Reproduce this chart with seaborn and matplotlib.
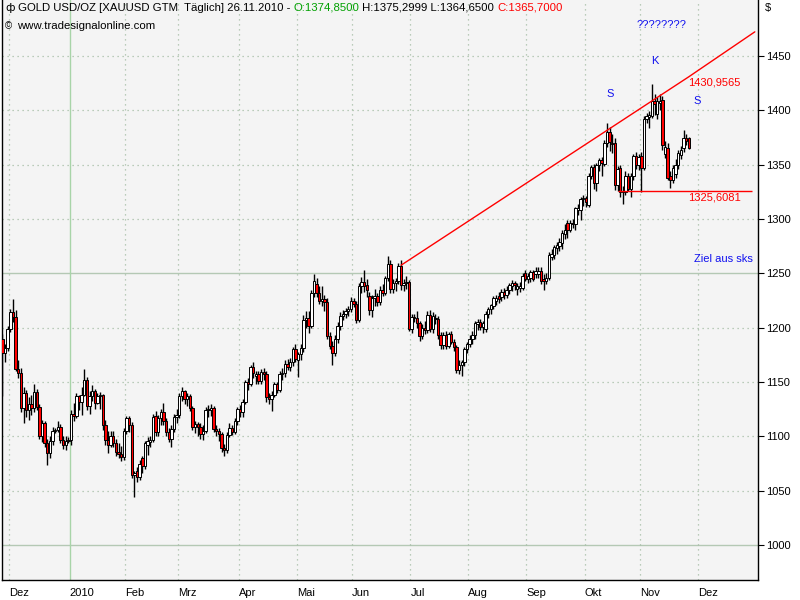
import numpy as np
import pandas as pd
import matplotlib
matplotlib.use("Agg")
import matplotlib.pyplot as plt
import seaborn as sns

# ---------------- data (daily XAUUSD, 27.11.2009 - 26.11.2010) ----------------
first_day = "2009-11-27"
last_day = "2010-11-26"

opens = [
    1190, 1177,
    1181, 1199, 1214, 1210, 1162, 1158, 1126, 1140, 1124, 1130, 1126, 1141, 1127, 1100, 1112, 1094, 1085, 1096, 1105, 1106, 1109, 1097, 1092,
    1096, 1097, 1121, 1119, 1137, 1132, 1138, 1152, 1128, 1137, 1142, 1131, 1137, 1138, 1110, 1097, 1092, 1100, 1094, 1086, 1084,
    1081, 1105, 1117, 1110, 1064, 1068, 1063, 1080, 1073, 1092, 1095, 1097, 1119, 1104, 1117, 1122, 1114, 1104, 1098, 1107,
    1118, 1120, 1137, 1142, 1134, 1137, 1126, 1109, 1111, 1109, 1102, 1105, 1124, 1124, 1126, 1107, 1105, 1102, 1089, 1087, 1101, 1108, 1104,
    1114, 1125, 1122, 1132, 1150, 1148, 1164, 1156, 1157, 1151, 1159, 1157, 1136, 1134, 1138, 1148, 1143, 1157, 1158, 1167, 1164, 1168,
    1180, 1170, 1176, 1181, 1207, 1209, 1202, 1232, 1240, 1232, 1225, 1226, 1224, 1192, 1183, 1177, 1190, 1202, 1211, 1213, 1215,
    1217, 1225, 1222, 1207, 1238, 1242, 1239, 1229, 1216, 1227, 1229, 1224, 1235, 1232, 1246, 1259, 1236, 1241, 1243, 1257, 1239, 1241,
    1242, 1199, 1210, 1209, 1204, 1192, 1200, 1198, 1212, 1199, 1209, 1208, 1193, 1184, 1193, 1183, 1194, 1187, 1182, 1161, 1166, 1168,
    1180, 1185, 1190, 1193, 1203, 1205, 1201, 1199, 1213, 1217, 1220, 1225, 1229, 1228, 1233, 1230, 1235, 1238, 1241, 1236, 1237, 1237,
    1250, 1245, 1246, 1251, 1249, 1249, 1252, 1245, 1243, 1246, 1265, 1267, 1273, 1275, 1278, 1286, 1296, 1290, 1296, 1295, 1308, 1308,
    1318, 1319, 1313, 1340, 1348, 1333, 1350, 1354, 1351, 1370, 1380, 1370, 1370, 1331, 1347, 1326, 1325, 1340, 1328, 1340, 1358,
    1350, 1358, 1347, 1392, 1394, 1395, 1409, 1397, 1407, 1410, 1360, 1365, 1340, 1336, 1341, 1350, 1359, 1365, 1375, 1374.85,
]
highs = [
    1194, 1185,
    1202, 1217, 1226, 1216, 1170, 1163, 1145, 1143, 1136, 1138, 1148, 1144, 1130, 1115, 1114, 1098, 1100, 1109, 1108, 1114, 1111, 1100, 1100,
    1099, 1124, 1131, 1140, 1138, 1145, 1162, 1155, 1142, 1147, 1144, 1140, 1141, 1139, 1115, 1105, 1105, 1105, 1098, 1094, 1091,
    1108, 1119, 1119, 1113, 1068, 1072, 1078, 1082, 1096, 1099, 1100, 1121, 1123, 1120, 1125, 1131, 1117, 1108, 1110, 1121,
    1125, 1140, 1145, 1143, 1140, 1139, 1128, 1114, 1113, 1112, 1110, 1127, 1129, 1130, 1128, 1110, 1108, 1104, 1093, 1104, 1112, 1110, 1117,
    1127, 1129, 1134, 1152, 1154, 1166, 1168, 1160, 1160, 1162, 1163, 1160, 1140, 1142, 1150, 1150, 1160, 1163, 1170, 1171, 1172, 1182,
    1185, 1178, 1185, 1212, 1215, 1215, 1235, 1249, 1246, 1238, 1238, 1230, 1227, 1196, 1188, 1193, 1205, 1214, 1216, 1218, 1220,
    1228, 1227, 1225, 1241, 1247, 1253, 1245, 1233, 1230, 1236, 1232, 1238, 1240, 1248, 1266, 1262, 1245, 1246, 1260, 1262, 1245, 1248,
    1244, 1213, 1213, 1215, 1206, 1203, 1206, 1215, 1216, 1214, 1213, 1211, 1196, 1196, 1197, 1196, 1197, 1190, 1184, 1170, 1170, 1182,
    1187, 1193, 1197, 1206, 1208, 1208, 1206, 1215, 1219, 1222, 1229, 1230, 1233, 1236, 1237, 1238, 1241, 1244, 1243, 1241, 1242, 1250,
    1253, 1250, 1253, 1253, 1256, 1256, 1256, 1249, 1250, 1270, 1272, 1276, 1279, 1283, 1290, 1295, 1299, 1299, 1300, 1311, 1314, 1320,
    1322, 1321, 1342, 1350, 1351, 1352, 1356, 1357, 1373, 1388, 1385, 1378, 1375, 1349, 1350, 1330, 1344, 1342, 1342, 1360, 1362,
    1360, 1362, 1395, 1398, 1399, 1424, 1415, 1412, 1415, 1413, 1372, 1370, 1344, 1350, 1355, 1364, 1367, 1382, 1378, 1375.30,
]
lows = [
    1137, 1168,
    1179, 1196, 1205, 1160, 1154, 1122, 1112, 1118, 1115, 1120, 1122, 1124, 1098, 1095, 1090, 1074, 1080, 1092, 1103, 1104, 1094, 1088, 1087,
    1094, 1092, 1114, 1117, 1124, 1120, 1137, 1124, 1121, 1133, 1125, 1130, 1125, 1106, 1092, 1085, 1090, 1090, 1082, 1080, 1077,
    1078, 1102, 1104, 1062, 1044, 1058, 1060, 1066, 1070, 1083, 1090, 1095, 1100, 1100, 1110, 1110, 1100, 1095, 1090, 1104,
    1112, 1117, 1133, 1130, 1128, 1123, 1106, 1103, 1100, 1098, 1097, 1103, 1118, 1119, 1104, 1100, 1096, 1086, 1082, 1085, 1099, 1101, 1102,
    1110, 1118, 1118, 1130, 1143, 1146, 1154, 1148, 1148, 1148, 1152, 1132, 1130, 1123, 1136, 1140, 1141, 1152, 1155, 1161, 1160, 1165,
    1168, 1155, 1170, 1178, 1200, 1195, 1200, 1228, 1228, 1222, 1220, 1215, 1190, 1180, 1166, 1174, 1186, 1198, 1207, 1209, 1211,
    1214, 1219, 1204, 1205, 1232, 1233, 1228, 1212, 1210, 1220, 1220, 1221, 1229, 1230, 1243, 1232, 1232, 1234, 1240, 1235, 1234, 1236,
    1197, 1195, 1205, 1200, 1188, 1190, 1194, 1195, 1196, 1195, 1203, 1190, 1180, 1180, 1180, 1181, 1185, 1179, 1158, 1157, 1156, 1165,
    1177, 1182, 1185, 1190, 1198, 1198, 1195, 1196, 1209, 1213, 1217, 1221, 1223, 1225, 1226, 1227, 1231, 1234, 1235, 1230, 1233, 1235,
    1243, 1241, 1242, 1243, 1246, 1246, 1240, 1235, 1240, 1244, 1262, 1263, 1268, 1271, 1272, 1282, 1283, 1288, 1292, 1290, 1304, 1299,
    1312, 1311, 1311, 1337, 1328, 1326, 1344, 1340, 1349, 1366, 1363, 1361, 1327, 1326, 1320, 1314, 1322, 1326, 1320, 1336, 1346,
    1345, 1325, 1345, 1388, 1384, 1393, 1396, 1392, 1400, 1364, 1356, 1336, 1329, 1333, 1338, 1346, 1355, 1362, 1368, 1364.65,
]
closes = [
    1177, 1181,
    1199, 1214, 1210, 1162, 1158, 1126, 1140, 1124, 1130, 1126, 1141, 1127, 1100, 1112, 1094, 1085, 1096, 1105, 1106, 1109, 1097, 1092, 1096,
    1097, 1121, 1119, 1137, 1132, 1138, 1152, 1128, 1137, 1142, 1131, 1137, 1138, 1110, 1097, 1092, 1100, 1094, 1086, 1084, 1081,
    1105, 1117, 1110, 1064, 1066, 1063, 1075, 1073, 1094, 1096, 1097, 1118, 1104, 1117, 1122, 1114, 1104, 1098, 1107, 1118,
    1120, 1137, 1142, 1134, 1137, 1126, 1109, 1111, 1109, 1102, 1105, 1124, 1125, 1126, 1107, 1105, 1102, 1089, 1087, 1101, 1108, 1104, 1114,
    1125, 1122, 1132, 1150, 1148, 1164, 1158, 1157, 1151, 1159, 1157, 1136, 1134, 1138, 1148, 1143, 1157, 1158, 1167, 1164, 1168, 1180,
    1171, 1176, 1181, 1207, 1209, 1202, 1232, 1243, 1232, 1225, 1226, 1224, 1192, 1183, 1177, 1190, 1202, 1211, 1213, 1215, 1217,
    1225, 1222, 1207, 1238, 1242, 1238, 1235, 1216, 1227, 1229, 1224, 1235, 1232, 1246, 1259, 1236, 1241, 1243, 1257, 1239, 1241, 1242,
    1199, 1210, 1209, 1204, 1192, 1200, 1198, 1212, 1199, 1211, 1208, 1193, 1184, 1193, 1183, 1194, 1187, 1182, 1161, 1166, 1168, 1180,
    1185, 1190, 1193, 1204, 1205, 1201, 1204, 1213, 1217, 1221, 1227, 1227, 1226, 1233, 1230, 1235, 1239, 1241, 1239, 1238, 1238, 1248,
    1245, 1248, 1251, 1245, 1252, 1252, 1243, 1243, 1246, 1267, 1268, 1274, 1276, 1279, 1287, 1290, 1290, 1296, 1295, 1310, 1310, 1318,
    1319, 1316, 1340, 1348, 1333, 1350, 1354, 1352, 1370, 1380, 1371, 1369, 1331, 1346, 1325, 1325, 1340, 1328, 1340, 1358, 1350,
    1357, 1347, 1392, 1395, 1396, 1409, 1406, 1409, 1409, 1368, 1366, 1338, 1336, 1347, 1350, 1361, 1364, 1375, 1372, 1365.70,
]

month_labels = ["Dez", "2010", "Feb", "Mrz", "Apr", "Mai", "Jun", "Jul", "Aug", "Sep", "Okt", "Nov", "Dez"]
y_ticks = [1000, 1050, 1100, 1150, 1200, 1250, 1300, 1350, 1400, 1450]

# trend line (resistance) : start day, anchor at last bar, extension to the right edge
trend_days = ["2010-06-28", "2010-11-26", "2010-12-31"]
trend_values = [1257.5, 1430.9565, 1472.3]
support_value = 1325.6081
support_from = "2010-10-20"
support_to = "2010-12-30"

# ---------------- figure ----------------
sns.set_style("white")
plt.rcParams["font.family"] = ["Liberation Sans", "DejaVu Sans"]
plt.rcParams["font.size"] = 8

dates = pd.bdate_range(first_day, last_day)
n = len(dates)
for name, arr in [("opens", opens), ("highs", highs), ("lows", lows), ("closes", closes)]:
    if len(arr) != n:
        raise ValueError(f"{name} has {len(arr)} values, expected {n}")

start64 = np.datetime64(first_day)
def day_pos(d):
    return float(np.busday_count(start64, np.datetime64(pd.Timestamp(d).date())))

x = np.arange(n)
o = np.array(opens, float)
h = np.array(highs, float)
l = np.array(lows, float)
c = np.array(closes, float)

fig = plt.figure(figsize=(8, 6), dpi=100, facecolor="white")
ax = fig.add_axes([2 / 800, 20 / 600, 756 / 800, 580 / 600])
ax.set_facecolor("#f4f4f4")

# grid
grid_col = "#a6bea6"
for yv in y_ticks:
    if yv in (1000, 1250):
        ax.axhline(yv, color="#b4c8b4", lw=1.0, zorder=0)
    else:
        ax.axhline(yv, color=grid_col, lw=0.9, ls=(0, (1, 3)), zorder=0)

month_starts = pd.date_range("2009-12-01", "2010-12-01", freq="MS")
tick_pos = [day_pos(d) + 0.5 for d in month_starts]
for lab, p in zip(month_labels, tick_pos):
    if lab == "2010":
        ax.axvline(p, color="#a8d4a8", lw=1.0, zorder=0)
    else:
        ax.axvline(p, color=grid_col, lw=0.9, ls=(0, (1, 3)), zorder=0)

# candles
ax.vlines(x, l, h, color="black", lw=1.0, zorder=2)
body = c - o
body = np.where(np.abs(body) < 0.6, 0.6, body)
fills = np.where(c >= o, "white", "#ff0000")
ax.bar(x, body, bottom=o, width=0.92, color=fills, edgecolor="black", linewidth=0.7, zorder=3)

# trend line and support
tx = [day_pos(d) for d in trend_days]
sns.lineplot(x=tx, y=trend_values, color="#ff0000", lw=1.0, ax=ax, zorder=4)
ax.hlines(support_value, day_pos(support_from), day_pos(support_to), color="#ff0000", lw=1.0, zorder=4)

ax.text(259.7, 1425.5, "1430,9565", color="#ff0000", fontsize=8, va="center", ha="left")
ax.text(259.7, 1320.0, "1325,6081", color="#ff0000", fontsize=8, va="center", ha="left")

blue = "#1010f0"
ax.text(230.2, 1415, "S", color=blue, fontsize=8, ha="center", va="center")
ax.text(247.2, 1445, "K", color=blue, fontsize=8, ha="center", va="center")
ax.text(263.0, 1409, "S", color=blue, fontsize=8, ha="center", va="center")
ax.text(249.6, 1478.5, "????????", color=blue, fontsize=8, ha="center", va="center")
ax.text(273.0, 1263.5, "Ziel aus sks", color=blue, fontsize=8, ha="center", va="center")

# axes
ax.set_xlim(-0.15, 286.2)
ax.set_ylim(967.8, 1501.6)
ax.yaxis.tick_right()
ax.set_yticks(y_ticks)
ax.set_yticklabels([str(v) for v in y_ticks])
ax.set_xticks(tick_pos)
ax.set_xticklabels(month_labels, ha="left")
ax.tick_params(axis="y", direction="out", length=4, pad=2, labelsize=8, colors="black")
ax.tick_params(axis="x", direction="out", length=5, pad=1, labelsize=8, colors="black")
for lbl in ax.get_xticklabels():
    lbl.set_horizontalalignment("left")
ax.set_xlabel("")
ax.set_ylabel("")
for side in ["left", "bottom", "right"]:
    ax.spines[side].set_color("black")
    ax.spines[side].set_linewidth(1.0)
    ax.spines[side].set_visible(True)
ax.spines["top"].set_visible(False)

# header
fig.canvas.draw()
renderer = fig.canvas.get_renderer()
W, H = fig.get_size_inches() * fig.dpi
pieces = [
    ("GOLD USD/OZ [XAUUSD GTM  Täglich] 26.11.2010 - ", "black"),
    ("O:1374,8500", "#00a000"),
    (" H:1375,2999 L:1364,6500 ", "black"),
    ("C:1365,7000", "#ff0000"),
]
xpos = 18 / W
ytop = 1 - 8 / 600
for s, col in pieces:
    t = fig.text(xpos, ytop, s, color=col, fontsize=8.2, va="center", ha="left")
    bb = t.get_window_extent(renderer)
    xpos = bb.x1 / W
fig.text(5 / W, ytop, "ф", color="black", fontsize=8, va="center", ha="left", family="DejaVu Sans")
fig.text(5 / W, 1 - 26 / 600, "©", color="black", fontsize=7, va="center", ha="left")
fig.text(17 / W, 1 - 26 / 600, "www.tradesignalonline.com", color="black", fontsize=8.2, va="center", ha="left")
fig.text(765 / W, 1 - 8 / 600, "$", color="black", fontsize=8, va="center", ha="left")

fig.savefig("out.png", dpi=100, facecolor="white")
